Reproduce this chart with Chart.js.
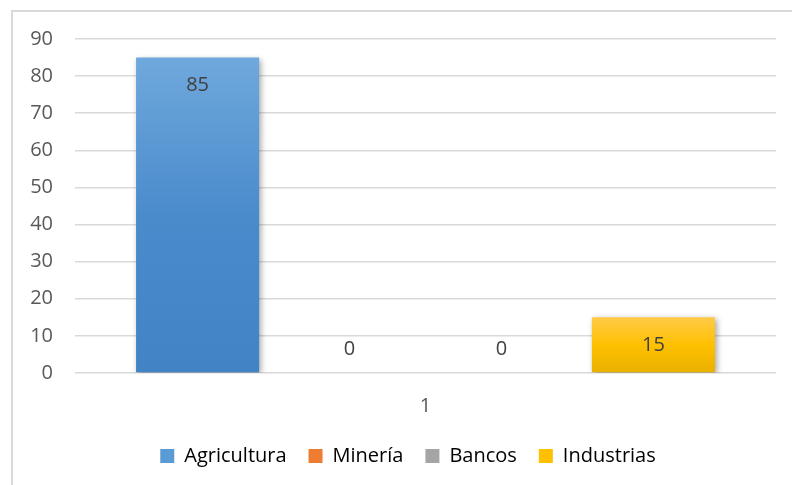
<!DOCTYPE html>
<html>
<head>
<meta charset="utf-8">
<script src="https://cdn.jsdelivr.net/npm/chart.js@4.4.1/dist/chart.umd.min.js"></script>
<style>
  html, body { margin: 0; padding: 0; background: #fff; }
  #wrap { position: relative; width: 792px; height: 485px; overflow: hidden; }
  #frame { position: absolute; left: 11px; top: 10px; width: 900px; height: 600px;
           border-top: 2px solid #d9d9d9; border-left: 2px solid #d9d9d9; }
  canvas { position: absolute; left: 0; top: 0; }
</style>
</head>
<body>
<div id="wrap">
  <div id="frame"></div>
  <canvas id="chart" width="792" height="485"></canvas>
</div>
<script>
// datos
var categorias = ["1"];
var agricultura = [85];
var mineria = [0];
var bancos = [0];
var industrias = [15];

var nombres = ["Agricultura", "Minería", "Bancos", "Industrias"];
var coloresLeyenda = ["#5b9bd5", "#ed7d31", "#a5a5a5", "#ffc000"];
var degradados = [
  ["#6fa8dc", "#4a8bcc", "#4283c6"],
  ["#f4a070", "#ed7d31", "#d86a1f"],
  ["#bdbdbd", "#a5a5a5", "#909090"],
  ["#ffca47", "#ffc000", "#e8b000"]
];

var fuente = "'Open Sans', 'Noto Sans', sans-serif";
var tam = 20;

function relleno(i) {
  return function (ctx) {
    var chart = ctx.chart;
    if (!chart.chartArea) return coloresLeyenda[i];
    var v = ctx.raw || 0;
    var top = chart.scales.y.getPixelForValue(v);
    var bottom = chart.scales.y.getPixelForValue(0);
    if (bottom - top < 1) return coloresLeyenda[i];
    var g = chart.ctx.createLinearGradient(0, top, 0, bottom);
    g.addColorStop(0, degradados[i][0]);
    g.addColorStop(0.5, degradados[i][1]);
    g.addColorStop(1, degradados[i][2]);
    return g;
  };
}

// sombra de las barras + etiquetas
var sombra = {
  id: "sombra",
  beforeDraw: function (chart) {
    // la leyenda de Excel queda algo a la derecha
    var lg = chart.legend;
    if (lg && !lg._movida) {
      lg.left += 20;
      lg.right += 20;
      lg._movida = true;
    }
  },
  beforeDatasetsDraw: function (chart) {
    var c = chart.ctx;
    c.save();
    c.shadowColor = "rgba(0,0,0,0.35)";
    c.shadowBlur = 6;
    c.shadowOffsetX = 2;
    c.shadowOffsetY = 2;
  },
  afterDatasetsDraw: function (chart) {
    chart.ctx.restore();
    var c = chart.ctx;
    c.save();
    c.font = tam + "px " + fuente;
    c.fillStyle = "#404040";
    c.textAlign = "center";
    c.textBaseline = "middle";
    chart.data.datasets.forEach(function (ds, i) {
      var meta = chart.getDatasetMeta(i);
      meta.data.forEach(function (bar, j) {
        var v = ds.data[j];
        var y = v > 0 ? bar.y + 28 : bar.base - 24;
        c.fillText(String(v), bar.x, y);
      });
    });
    c.restore();
  }
};

var series = [agricultura, mineria, bancos, industrias];

new Chart(document.getElementById("chart"), {
  type: "bar",
  data: {
    labels: categorias,
    datasets: series.map(function (d, i) {
      return {
        label: nombres[i],
        data: d,
        backgroundColor: relleno(i),
        borderWidth: 0,
        categoryPercentage: 0.867,
        barPercentage: 0.81
      };
    })
  },
  options: {
    responsive: false,
    animation: false,
    layout: { padding: { left: 0, right: 16, top: 39, bottom: 9 } },
    plugins: {
      tooltip: { enabled: false },
      legend: {
        position: "bottom",
        labels: {
          boxWidth: 14,
          boxHeight: 14,
          padding: 22,
          color: "#595959",
          font: { family: fuente, size: tam },
          generateLabels: function (chart) {
            return chart.data.datasets.map(function (ds, i) {
              return {
                text: ds.label,
                fillStyle: coloresLeyenda[i],
                strokeStyle: coloresLeyenda[i],
                lineWidth: 0,
                datasetIndex: i
              };
            });
          }
        }
      }
    },
    scales: {
      x: {
        grid: { display: false },
        border: { display: false },
        ticks: { color: "#595959", padding: 13, font: { family: fuente, size: tam } },
        afterFit: function (s) { s.height -= 7; }
      },
      y: {
        min: 0,
        max: 90,
        ticks: { stepSize: 10, color: "#595959", padding: 22, font: { family: fuente, size: tam } },
        grid: { color: "#d9d9d9", lineWidth: 1.5, drawTicks: false },
        border: { display: false },
        afterFit: function (s) { s.width = 75; }
      }
    }
  },
  plugins: [sombra]
});
</script>
</body>
</html>
